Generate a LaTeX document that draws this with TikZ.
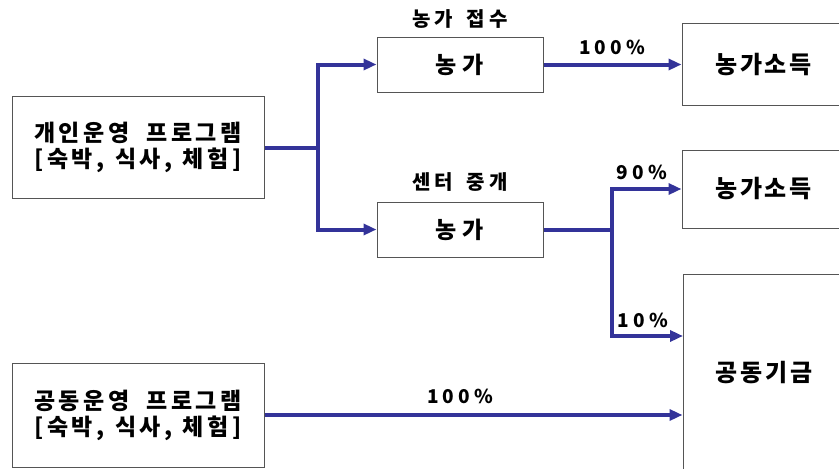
\documentclass[tikz,border=0pt]{standalone}
\usepackage{fontspec}
\setmainfont{Noto Sans CJK KR}
\newfontfamily\krsrc{Noto Sans CJK KR}[LetterSpace=15,WordSpace=1.2]
\newfontfamily\krmidf{Noto Sans CJK KR}[LetterSpace=25]
\newfontfamily\krdst{Noto Sans CJK KR}[LetterSpace=11]
\newfontfamily\krhead{Noto Sans CJK KR}[LetterSpace=20,WordSpace=1.6]
\newfontfamily\krpct{Noto Sans CJK KR}[LetterSpace=22]
\usetikzlibrary{arrows.meta}
\definecolor{flowblue}{HTML}{333399}
\definecolor{boxgray}{HTML}{555555}
\tikzset{
  box/.style={draw=boxgray, line width=1pt, rectangle, inner sep=0pt, align=center},
  srcbox/.style={box, font=\krsrc\bfseries\fontsize{23}{26}\selectfont},
  midbox/.style={box, font=\krmidf\bfseries\fontsize{23}{26}\selectfont},
  dstbox/.style={box, font=\krdst\bfseries\fontsize{24}{26}\selectfont},
  head/.style={font=\krhead\bfseries\fontsize{20}{22}\selectfont, inner sep=0pt},
  pct/.style={font=\krpct\bfseries\fontsize{19}{21}\selectfont, inner sep=0pt},
  flow/.style={draw=flowblue, line width=4pt},
  arr/.style={flow, -{Triangle[length=13pt,width=11pt]}},
}
\begin{document}
\begin{tikzpicture}[x=1pt,y=-1pt]
\useasboundingbox (0,0) rectangle (839,469);
\clip (0,0) rectangle (839,469);
\node[srcbox, minimum width=252pt, minimum height=102pt] (A) at (138,147) {개인운영\hspace{7pt} 프로그램\\{[}숙박, 식사, 체험{]}};
\node[srcbox, minimum width=252pt, minimum height=104pt] (B) at (138,415) {공동운영\hspace{7pt} 프로그램\\{[}숙박, 식사, 체험{]}};
\node[midbox, minimum width=166pt, minimum height=55pt] (C1) at (460,64.5) {농가};
\node[midbox, minimum width=166pt, minimum height=55pt] (C2) at (460,229.5) {농가};
\node[dstbox, minimum width=163pt, minimum height=82pt] (D1) at (763.5,64.5) {농가소득};
\node[dstbox, minimum width=163pt, minimum height=78pt] (D2) at (763.5,189) {농가소득};
\node[box, minimum width=162pt, minimum height=206pt] (E) at (764,377) {};
\node[dstbox, draw=none] (Et) at (764,373) {공동기금};
\node[head] (h1) at (460,19) {농가 접수};
\node[head] (h2) at (460,182) {센터 중개};
\node[pct] (p1) at (612,47) {100\%};
\node[pct] (p2) at (642,172) {90\%};
\node[pct] (p3) at (643,320) {10\%};
\node[pct] (p4) at (460,396) {100\%};
\coordinate (j1) at (318,148);
\coordinate (j2) at (612,229.5);
\coordinate (e1) at (683,336);
\draw[flow] (A.east |- j1) -- (j1);
\draw[arr, line join=miter] (j1) |- (C1.west);
\draw[arr, line join=miter] (j1) |- (C2.west);
\draw[arr] (C1.east) -- (D1.west);
\draw[flow] (C2.east) -- (j2);
\draw[arr, line join=miter] (j2) |- (D2.west);
\draw[arr, line join=miter] (j2) |- (e1);
\draw[arr] (B.east) -- (B.east -| E.west);
\end{tikzpicture}
\end{document}
